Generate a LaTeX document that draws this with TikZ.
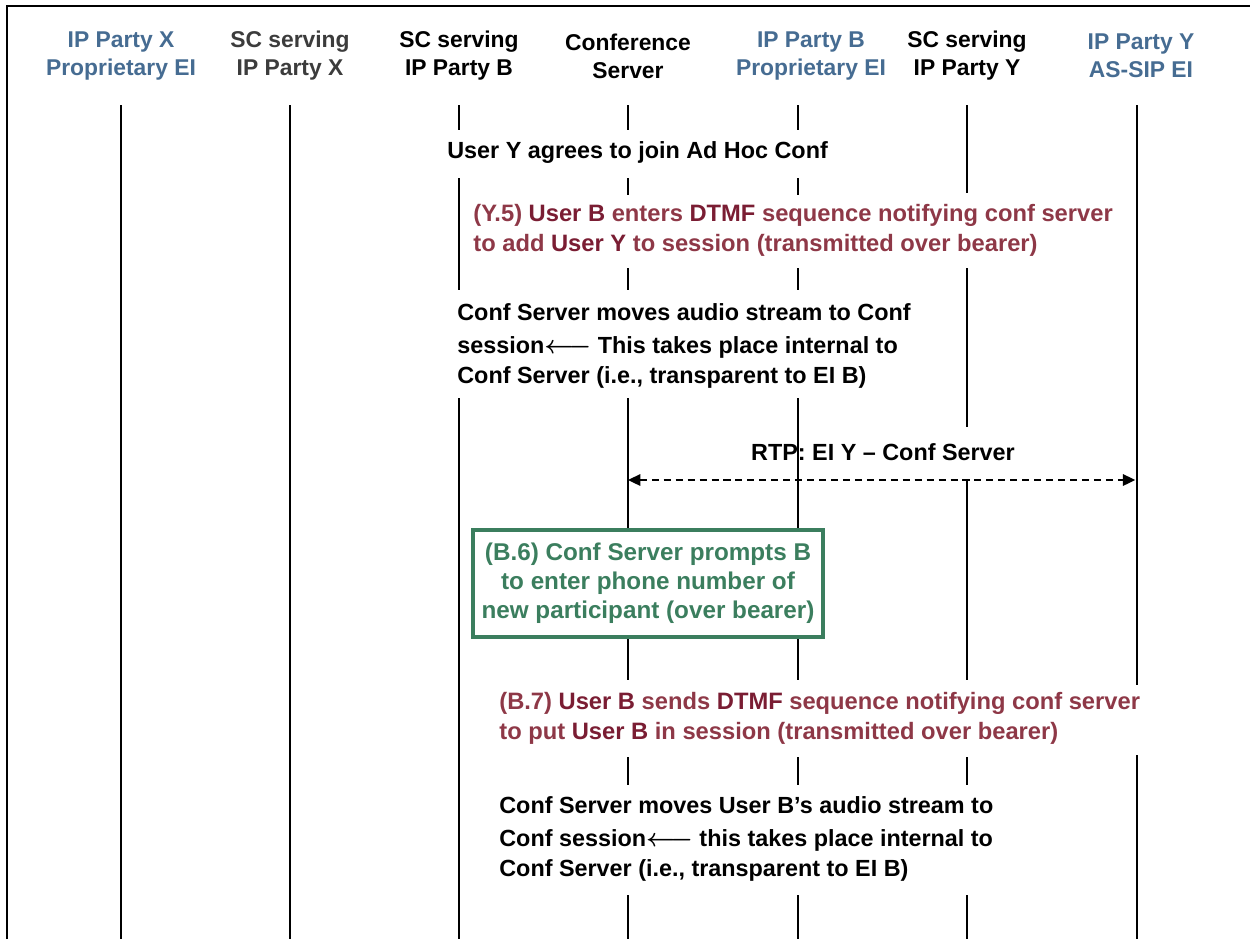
\documentclass[tikz,border=0pt]{standalone}
\usepackage{fontspec}
\setmainfont{Liberation Sans}
\usepackage{xcolor}
\definecolor{seq-blue}{HTML}{466C92}
\definecolor{seq-gray}{HTML}{3C3C3C}
\definecolor{seq-red}{HTML}{8E3847}
\definecolor{seq-reddk}{HTML}{7A1D33}
\definecolor{seq-green}{HTML}{3B7E5E}
\usetikzlibrary{arrows.meta,positioning}
\newcommand{\redem}[1]{\textcolor{seq-reddk}{#1}}
\newcommand{\backarr}{{\boldmath$\longleftarrow$}}

\begin{document}
\begin{tikzpicture}[
    x=0.2mm, y=-0.2mm,
    >={Triangle[length=7pt, width=6.5pt]},
    head/.style={align=center, inner sep=0pt, font=\fontsize{13}{16}\selectfont\bfseries},
    headip/.style={head, text=seq-blue},
    life/.style={line width=1.1pt, draw=black},
    note/.style={anchor=west, align=left, inner sep=0pt, font=\fontsize{13.3}{17}\selectfont\bfseries},
    rednote/.style={note, text=seq-red, font=\fontsize{13.5}{17}\selectfont\bfseries},
    prompt/.style={draw=seq-green, line width=2pt, text=seq-green, align=center, inner sep=0pt,
        minimum width=7cm, minimum height=2.14cm, font=\fontsize{13.8}{16.5}\selectfont\bfseries},
    rtp/.style={<->, line width=1.1pt, dash pattern=on 4pt off 2.8pt, shorten >=1pt}
]
\useasboundingbox (0,0) rectangle (1250,939);
\draw[line width=1.7pt] (7,939) -- (7,6) -- (1250,6);

% parties
\node[headip] (ipX) at (121,56) {IP Party X\\Proprietary EI};
\node[head, text=seq-gray] (scX) at (290,56) {SC serving\\IP Party X};
\node[head] (scB) at (459,56) {SC serving\\IP Party B};
\node[head] (conf) at (628,56) {Conference\\Server};
\node[headip] (ipB) at (811,56) {IP Party B\\Proprietary EI};
\node[head] (scY) at (967,56) {SC serving\\IP Party Y};
\node[headip] (ipY) at (1141,56) {IP Party Y\\AS-SIP EI};

% lifelines, broken where the notes sit
\foreach \x/\a/\b in {121/105/939, 290/105/939,
    459/105/130, 459/178/290, 459/398/939,
    628/105/130, 628/178/195, 628/268/290, 628/398/530, 628/637/680, 628/757/785, 628/895/939,
    798/105/130, 798/178/195, 798/268/290, 798/398/530, 798/637/680, 798/757/785, 798/895/939,
    967/105/193, 967/268/427, 967/480/680, 967/757/785, 967/895/939,
    1137/105/685, 1137/755/939} {
    \draw[life] (\x,\a) -- (\x,\b);
}

\node[note] (agree) at (447,153) {User Y agrees to join Ad Hoc Conf};
\node[rednote] (y5) at (473,230) {(Y.5) \redem{User B} enters \redem{DTMF} sequence notifying conf server\\to add \redem{User Y} to session (transmitted over bearer)};
\node[note] (moveA) at (457,346) {Conf Server moves audio stream to Conf\\[1.5pt]session\backarr\ This takes place internal to\\Conf Server (i.e., transparent to EI B)};

\coordinate (rtpL) at (628,480);
\coordinate (rtpR) at (1137,480);
\node[note, anchor=center] (rtplbl) at (883,452) {RTP: EI Y -- Conf Server};
\draw[rtp] (rtpL) -- (rtpR);

\node[prompt] (b6) at (648,583.5) {(B.6) Conf Server prompts B\\to enter phone number of\\new participant (over bearer)};

\node[rednote] (b7) at (499,718) {(B.7) \redem{User B} sends \redem{DTMF} sequence notifying conf server\\to put \redem{User B} in session (transmitted over bearer)};
\node[note] (moveB) at (499,839) {Conf Server moves User B’s audio stream to\\[1.5pt]Conf session\backarr\ this takes place internal to\\Conf Server (i.e., transparent to EI B)};
\end{tikzpicture}
\end{document}
